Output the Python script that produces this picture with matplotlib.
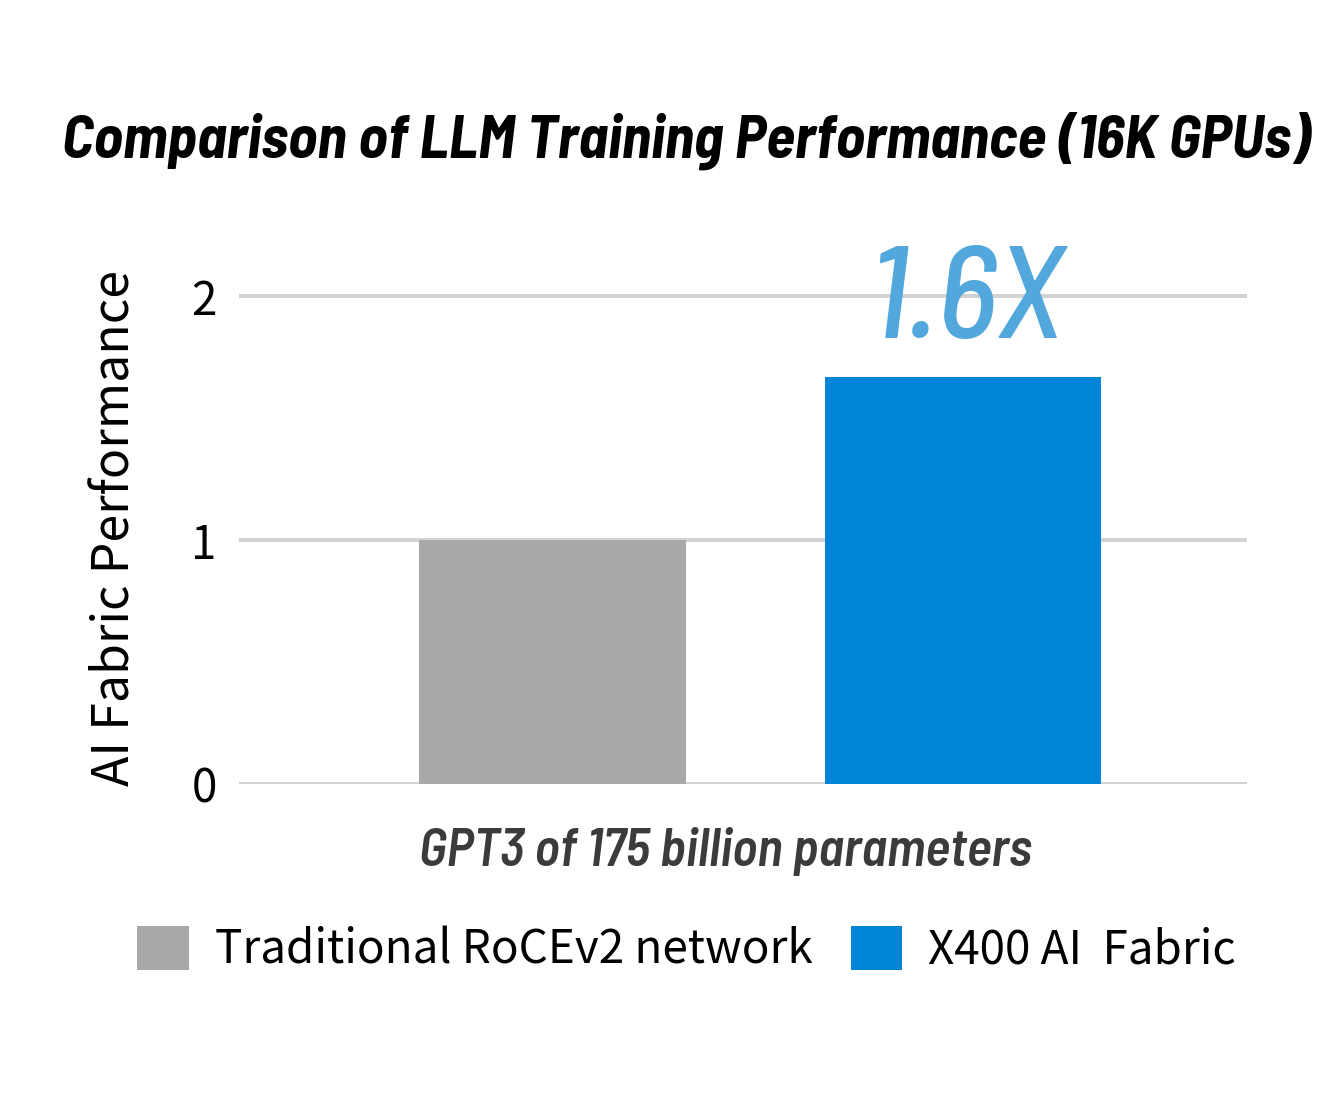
import matplotlib
matplotlib.use("Agg")
import matplotlib.pyplot as plt
from matplotlib.patches import Patch

# ---- data ----
categories = ["Traditional RoCEv2 network", "X400 AI  Fabric"]
values = [1.0, 1.67]
yticks = [0, 1, 2]
title = "Comparison of LLM Training Performance (16K GPUs)"
xlabel = "GPT3 of 175 billion parameters"
ylabel = "AI Fabric Performance"
annotation = "1.6X"

# ---- style ----
colors = ["#a9a9a9", "#0085d6"]
positions = [0, 1]
widths = [0.65, 0.672]
W, H = 1335, 1094
DPI = 100

cjk = ["Noto Sans CJK SC", "DejaVu Sans"]
square = ["Barlow Semi Condensed", "DejaVu Sans"]

fig = plt.figure(figsize=(W / DPI, H / DPI), dpi=DPI)
ymax = 2.2
px_per_unit = 244
ax_left, ax_right = 239, 1247
ax_bottom_px = 784
ax_h = ymax * px_per_unit
ax = fig.add_axes([ax_left / W, (H - ax_bottom_px) / H,
                   (ax_right - ax_left) / W, ax_h / H])

ax.bar(positions, values, width=widths, color=colors, zorder=2)
ax.set_xlim(-0.764, 1.692)
ax.set_ylim(0, ymax)
ax.set_yticks(yticks)
ax.set_yticklabels([str(t) for t in yticks], family=cjk, fontsize=33)
ax.set_xticks([])
ax.yaxis.grid(True, color="#d3d3d3", linewidth=2.9, zorder=1)
ax.set_axisbelow(True)
for s in ax.spines.values():
    s.set_visible(False)
ax.tick_params(axis="y", length=0, pad=16)

ax.set_ylabel(ylabel, family=cjk, fontsize=36)
ax.yaxis.set_label_coords((141 - ax_left) / (ax_right - ax_left),
                          (784 - 528) / ax_h)

ax.set_xlabel(xlabel, family=square, fontsize=38, fontweight=600,
              style="italic", color="#3b3b3b")
ax.xaxis.set_label_coords((725.5 - ax_left) / (ax_right - ax_left),
                          -(852 - 784) / ax_h)
ax.xaxis.label.set_va("center")

ax.annotate(annotation, xy=(positions[1], values[1]), xytext=(2, 28),
            textcoords="offset points", ha="center", va="baseline",
            family=square, style="italic", fontweight=500, fontsize=94,
            color="#52a8dc")

fig.text(686 / W, 1 - 141 / H, title, ha="center", va="center",
         family=square, fontsize=43.5, fontweight="bold", style="italic",
         color="black")

handles = [Patch(facecolor=c, edgecolor="none") for c in colors]
fig.legend(handles, categories, loc="center",
           bbox_to_anchor=(686.5 / W, 1 - 950 / H), ncol=2, frameon=False,
           prop={"family": cjk, "size": 33}, handlelength=1.13,
           handleheight=1.09, handletextpad=0.57, columnspacing=0.83,
           borderpad=0)

fig.savefig("out.png", dpi=DPI)
